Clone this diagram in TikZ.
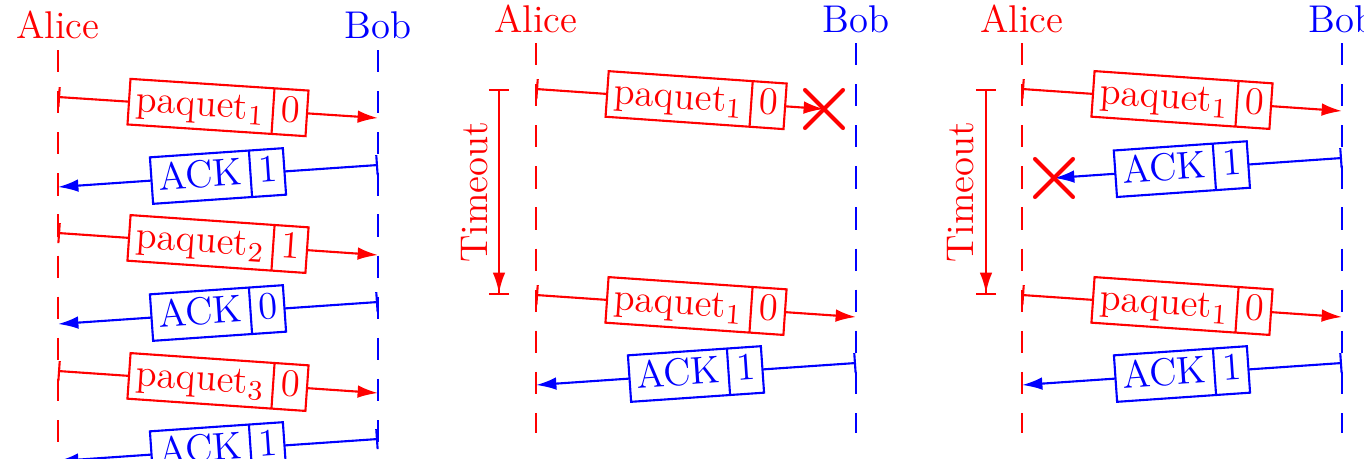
\documentclass[tikz,border=0pt]{standalone}
\usepackage{tikz}
\usepackage{amsmath}
\usetikzlibrary{shapes.multipart}
\usetikzlibrary{shapes.misc}
\usetikzlibrary{arrows.meta}

\newcommand{\boxstrut}{\vrule width 0pt height 7.6pt depth 2.2pt}

\tikzset{
    lifeA/.style = {red, line width=0.7pt, dash pattern=on 6.3pt off 5.4pt},
    lifeB/.style = {blue, line width=0.7pt, dash pattern=on 6.3pt off 5.4pt},
    msg/.style = {line width=0.6pt, arrows = {Bar[width=5.7pt]-Latex[length=5.8pt,width=3.6pt]}},
    pkt/.style = {rectangle split, rectangle split horizontal, rectangle split parts=2,
                  draw, fill=white, line width=0.6pt, inner xsep=2pt, inner ysep=1.6pt},
    lost/.style = {cross out, draw, red, line width=1.15pt, line cap=round,
                   minimum size=0.34cm, inner sep=0pt},
    timeout/.style = {red, line width=0.6pt,
                      arrows = {Bar[width=5.7pt]-{Latex[length=5.8pt,width=3.6pt]Bar[width=5.7pt]}}},
    who/.style = {anchor=base}
}

\begin{document}
\begin{tikzpicture}[font=\fontsize{11}{13}\selectfont]

            %\draw [help lines] (0,0) grid (14,-5);
            \useasboundingbox (0,0) rectangle (13.64,-4.58);
            \clip (0,0) rectangle (13.64,-4.58);

            % first part: everything arrives
            \path   (0.58,-0.38) node (alice1) [who,red] {Alice}
                    (3.78,-0.38) node (bob1) [who,blue] {Bob}
                    (0.58,-0.50) coordinate (a1top)
                    (0.58,-5.10) coordinate (a1bot)
                    (3.78,-0.50) coordinate (b1top)
                    (3.78,-5.10) coordinate (b1bot)
                    (0.58,-0.97) coordinate (m11s)
                    (3.78,-1.18) coordinate (m11e)
                    (3.78,-1.65) coordinate (m12s)
                    (0.58,-1.87) coordinate (m12e)
                    (0.58,-2.33) coordinate (m13s)
                    (3.78,-2.55) coordinate (m13e)
                    (3.78,-3.02) coordinate (m14s)
                    (0.58,-3.24) coordinate (m14e)
                    (0.58,-3.71) coordinate (m15s)
                    (3.78,-3.93) coordinate (m15e)
                    (3.78,-4.39) coordinate (m16s)
                    (0.58,-4.61) coordinate (m16e);

            \draw[lifeA] (a1top) -- (a1bot);
            \draw[lifeB] (b1top) -- (b1bot);
            \draw[msg,red] (m11s) -- node[pkt,midway,sloped] {paquet$_1$\boxstrut\nodepart{two}0\boxstrut} (m11e);
            \draw[msg,blue] (m12s) -- node[pkt,midway,sloped] {ACK\boxstrut\nodepart{two}1\boxstrut} (m12e);
            \draw[msg,red] (m13s) -- node[pkt,midway,sloped] {paquet$_2$\boxstrut\nodepart{two}1\boxstrut} (m13e);
            \draw[msg,blue] (m14s) -- node[pkt,midway,sloped] {ACK\boxstrut\nodepart{two}0\boxstrut} (m14e);
            \draw[msg,red] (m15s) -- node[pkt,midway,sloped] {paquet$_3$\boxstrut\nodepart{two}0\boxstrut} (m15e);
            \draw[msg,blue] (m16s) -- node[pkt,midway,sloped] {ACK\boxstrut\nodepart{two}1\boxstrut} (m16e);

            % second part: the packet is lost
            \path   (5.36,-0.32) node (alice2) [who,red] {Alice}
                    (8.56,-0.32) node (bob2) [who,blue] {Bob}
                    (5.36,-0.43) coordinate (a2top)
                    (5.36,-4.33) coordinate (a2bot)
                    (8.56,-0.43) coordinate (b2top)
                    (8.56,-4.33) coordinate (b2bot)
                    (4.99,-0.89) coordinate (t2s)
                    (4.99,-2.95) coordinate (t2e)
                    (4.75,-1.92) node (wait2) [red,rotate=90] {Timeout}
                    (5.36,-0.89) coordinate (m21s)
                    (8.24,-1.09) coordinate (x21)
                    (5.36,-2.95) coordinate (m22s)
                    (8.56,-3.17) coordinate (m22e)
                    (8.56,-3.63) coordinate (m23s)
                    (5.36,-3.85) coordinate (m23e);

            \draw[lifeA] (a2top) -- (a2bot);
            \draw[lifeB] (b2top) -- (b2bot);
            \draw[timeout] (t2s) -- (t2e);
            \draw[msg,red] (m21s) -- node[pkt,pos=0.556,sloped] {paquet$_1$\boxstrut\nodepart{two}0\boxstrut} (x21);
            \node (lost21) [lost] at (x21) {};
            \draw[msg,red] (m22s) -- node[pkt,midway,sloped] {paquet$_1$\boxstrut\nodepart{two}0\boxstrut} (m22e);
            \draw[msg,blue] (m23s) -- node[pkt,midway,sloped] {ACK\boxstrut\nodepart{two}1\boxstrut} (m23e);

            % third part: the ACK is lost
            \path   (10.22,-0.32) node (alice3) [who,red] {Alice}
                    (13.42,-0.32) node (bob3) [who,blue] {Bob}
                    (10.22,-0.43) coordinate (a3top)
                    (10.22,-4.33) coordinate (a3bot)
                    (13.42,-0.43) coordinate (b3top)
                    (13.42,-4.33) coordinate (b3bot)
                    (9.86,-0.89) coordinate (t3s)
                    (9.86,-2.95) coordinate (t3e)
                    (9.61,-1.92) node (wait3) [red,rotate=90] {Timeout}
                    (10.22,-0.89) coordinate (m31s)
                    (13.42,-1.11) coordinate (m31e)
                    (13.42,-1.58) coordinate (m32s)
                    (10.54,-1.78) coordinate (x32)
                    (10.22,-2.95) coordinate (m33s)
                    (13.42,-3.17) coordinate (m33e)
                    (13.42,-3.63) coordinate (m34s)
                    (10.22,-3.85) coordinate (m34e);

            \draw[lifeA] (a3top) -- (a3bot);
            \draw[lifeB] (b3top) -- (b3bot);
            \draw[timeout] (t3s) -- (t3e);
            \draw[msg,red] (m31s) -- node[pkt,midway,sloped] {paquet$_1$\boxstrut\nodepart{two}0\boxstrut} (m31e);
            \draw[msg,blue] (m32s) -- node[pkt,pos=0.556,sloped] {ACK\boxstrut\nodepart{two}1\boxstrut} (x32);
            \node (lost32) [lost] at (x32) {};
            \draw[msg,red] (m33s) -- node[pkt,midway,sloped] {paquet$_1$\boxstrut\nodepart{two}0\boxstrut} (m33e);
            \draw[msg,blue] (m34s) -- node[pkt,midway,sloped] {ACK\boxstrut\nodepart{two}1\boxstrut} (m34e);
        \end{tikzpicture}
\end{document}
